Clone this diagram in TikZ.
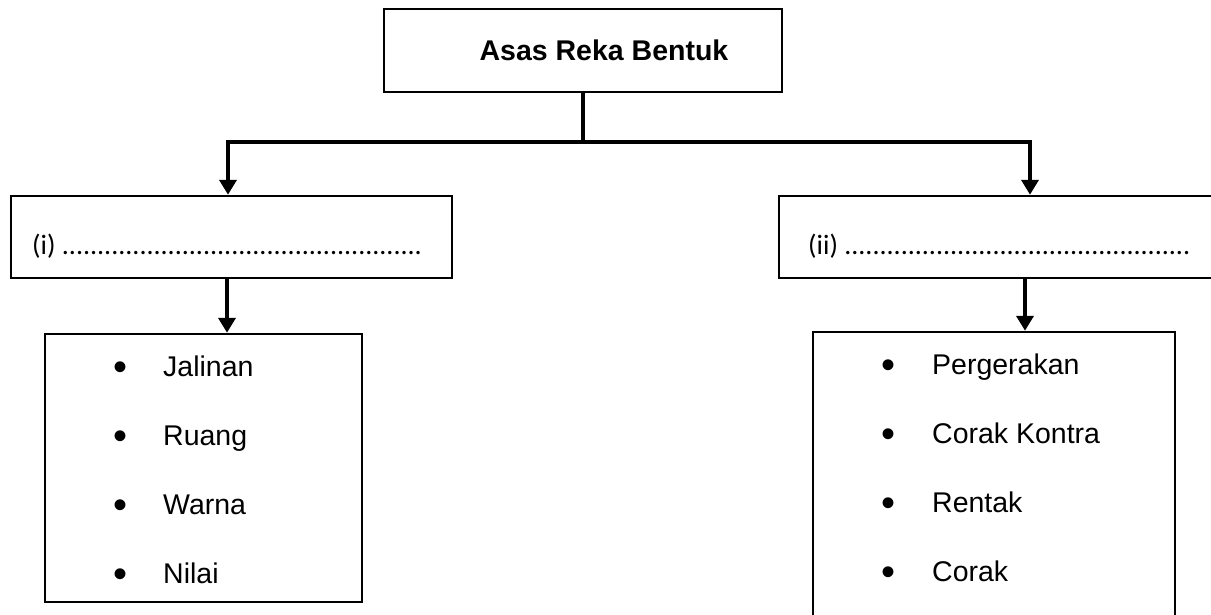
\documentclass[tikz,border=0pt]{standalone}
\usepackage{fontspec}
\setmainfont{Liberation Sans}
\newfontfamily\calfont{Carlito}
\usetikzlibrary{arrows.meta}
\ExplSyntaxOn
\NewDocumentCommand\rowdots{m}{\prg_replicate:nn{#1}{.}}
\ExplSyntaxOff
\begin{document}
\begin{tikzpicture}[x=1pt,y=-1pt,
  box/.style={draw=black,line width=2.5pt,fill=white,rectangle,inner sep=0pt},
  conn/.style={draw=black,line width=4pt},
  arr/.style={conn,-{Triangle[width=17pt,length=15pt]}},
  bigtxt/.style={font=\fontsize{28.5}{34}\selectfont,inner sep=0pt},
  dottxt/.style={font=\calfont\fontsize{28}{34}\selectfont,inner sep=0pt,anchor=base west},
  itemtxt/.style={bigtxt,anchor=base west},
  bul/.style={font=\fontsize{40}{44}\selectfont,inner sep=0pt,anchor=base,yshift=-4pt}]
\clip (0,0) rectangle (1211,614);
\fill[white] (0,0) rectangle (1211,614);

% top box
\node[box,minimum width=398pt,minimum height=83pt,font=\bfseries\fontsize{28.5}{34}\selectfont] (top) at (583,50.5) {\hspace*{42pt}Asas Reka Bentuk};

% middle boxes
\node[box,minimum width=441pt,minimum height=82pt] (mid1) at (231.5,237) {};
\node[dottxt] (t1) at (32,254) {(i) \rowdots{51}};
\node[box,minimum width=460pt,minimum height=82pt] (mid2) at (1009,237) {};
\node[dottxt] (t2) at (808,254) {(ii) \rowdots{49}};

% list boxes
\node[box,minimum width=317pt,minimum height=268pt] (list1) at (203.5,468) {};
\node[box,minimum width=362pt,minimum height=300pt] (list2) at (994,482) {};

% left items
\node[bul] (b1) at (121,376) {\textbullet};
\node[itemtxt] (i1) at (163,376) {Jalinan};
\node[bul] (b2) at (121,445) {\textbullet};
\node[itemtxt] (i2) at (163,445) {Ruang};
\node[bul] (b3) at (121,514) {\textbullet};
\node[itemtxt] (i3) at (163,514) {Warna};
\node[bul] (b4) at (121,583) {\textbullet};
\node[itemtxt] (i4) at (163,583) {Nilai};

% right items
\node[bul] (c1) at (888,374) {\textbullet};
\node[itemtxt] (j1) at (932,374) {Pergerakan};
\node[bul] (c2) at (888,443) {\textbullet};
\node[itemtxt] (j2) at (932,443) {Corak Kontra};
\node[bul] (c3) at (888,512) {\textbullet};
\node[itemtxt] (j3) at (932,512) {Rentak};
\node[bul] (c4) at (888,581) {\textbullet};
\node[itemtxt] (j4) at (932,581) {Corak};

% connectors
\coordinate (hub) at (top.south |- 0,142);
\draw[conn] (top.south) -- (hub);
\draw[arr] (hub) -| (mid1.north -| 228,0);
\draw[arr] (hub) -| (mid2.north -| 1030,0);
\draw[arr] (mid1.south -| 227,0) -- (list1.north -| 227,0);
\draw[arr] (mid2.south -| 1025,0) -- (list2.north -| 1025,0);
\end{tikzpicture}
\end{document}
